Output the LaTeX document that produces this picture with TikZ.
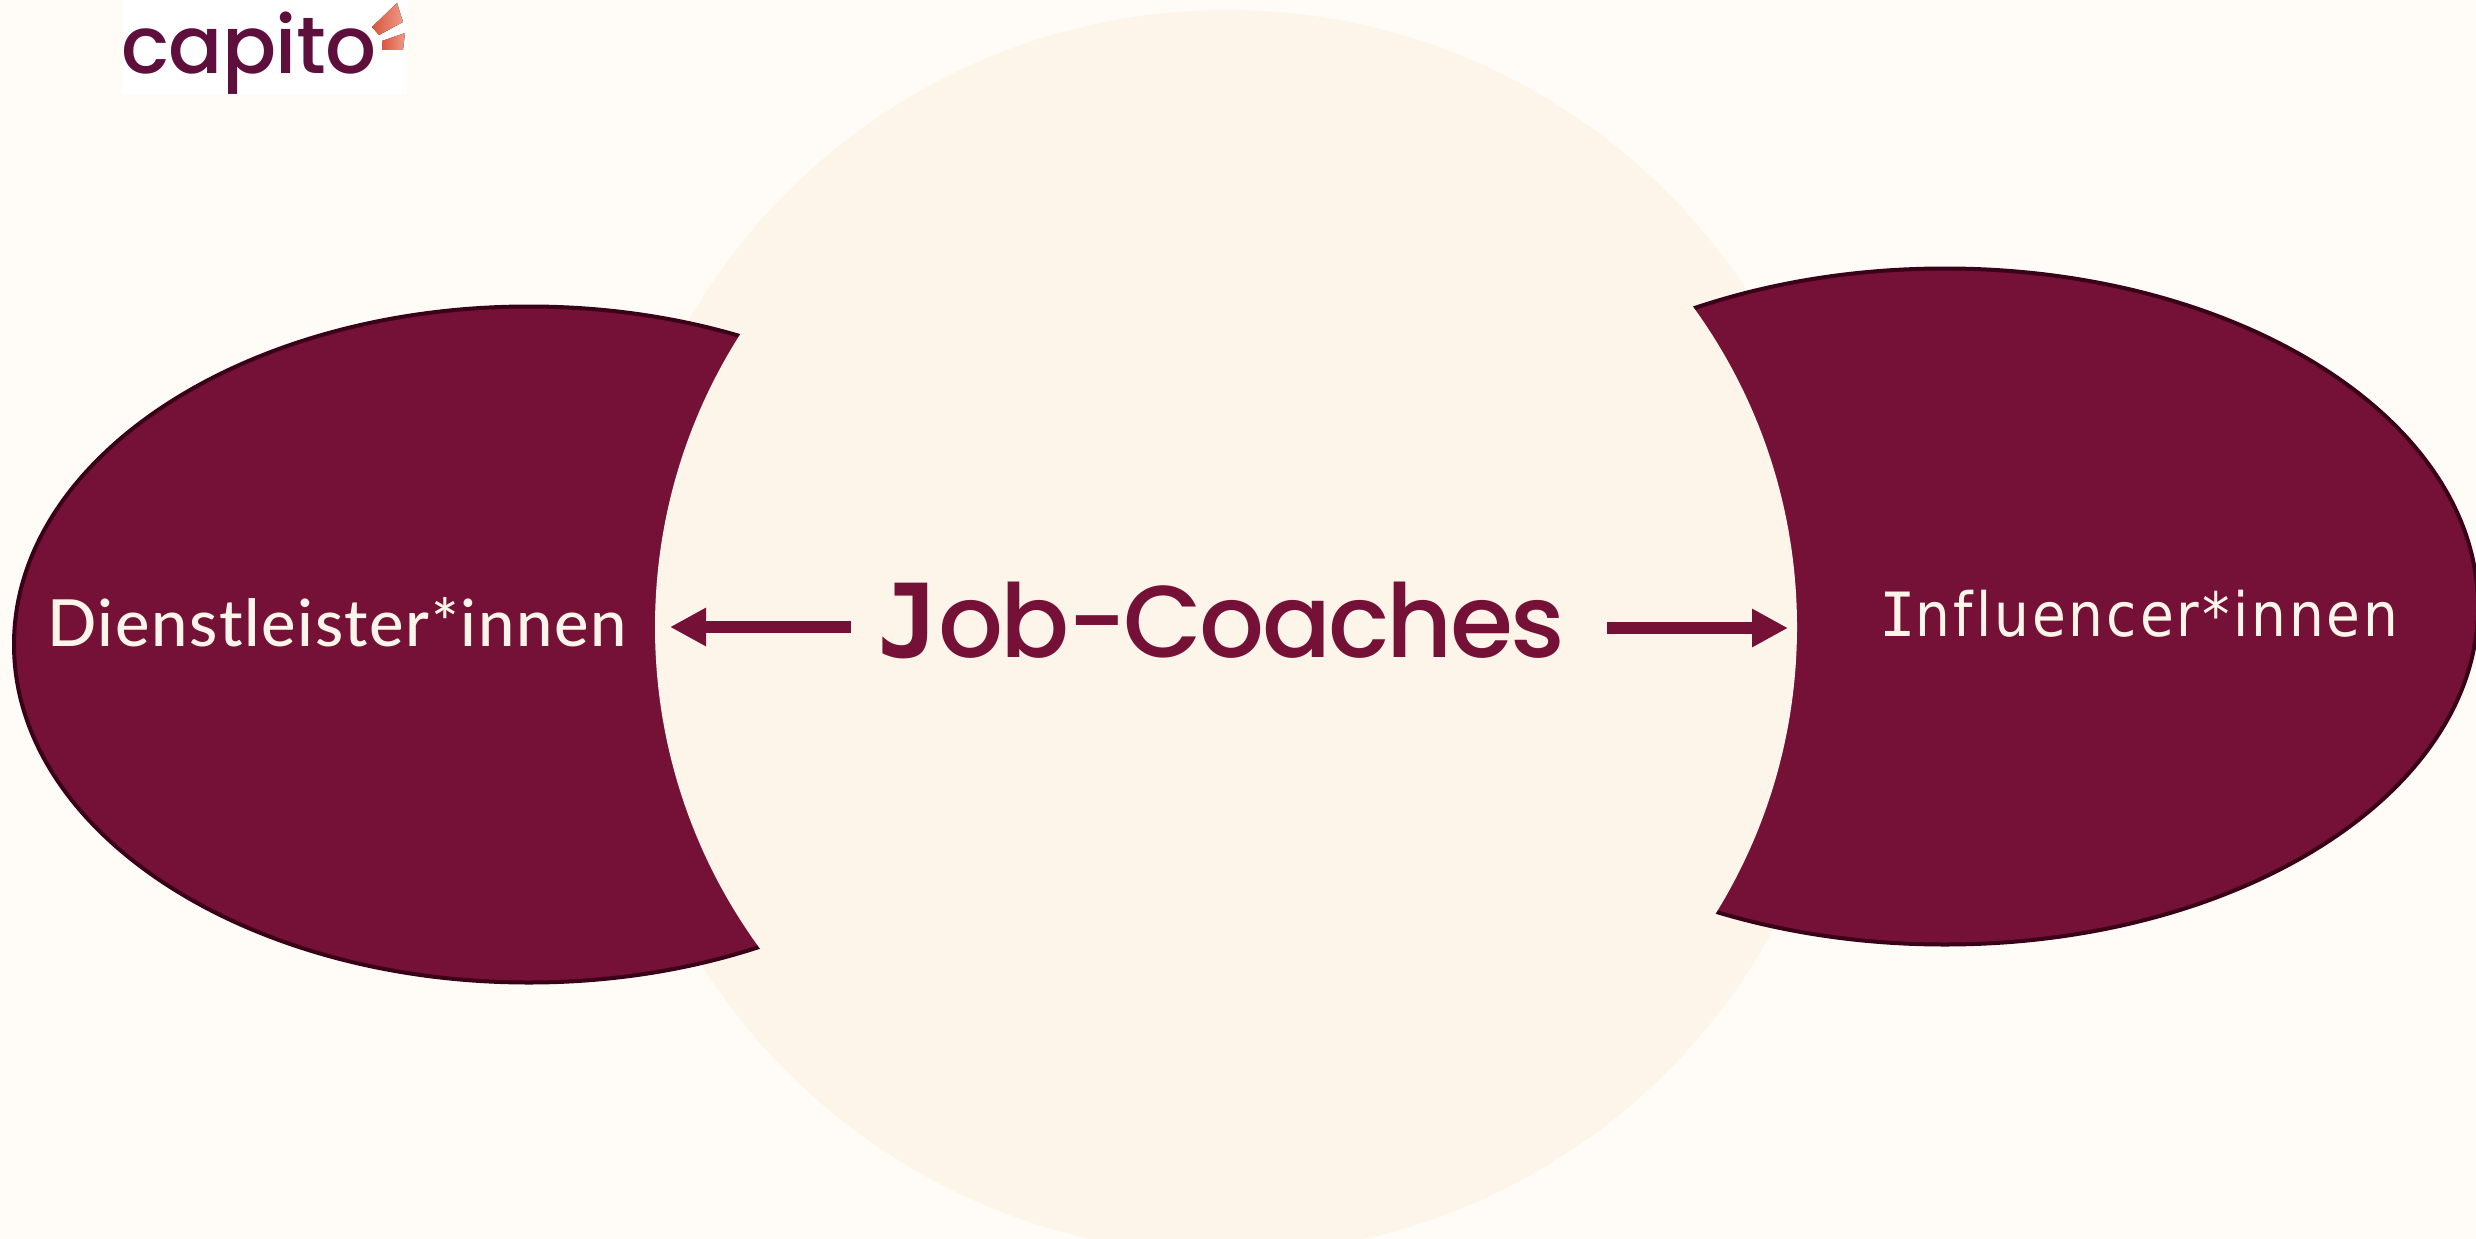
\documentclass[tikz,border=0pt]{standalone}
\usepackage{fontspec}
\usetikzlibrary{shapes.geometric,arrows.meta}
\setmainfont{Poppins}
\newfontfamily\jobfont[LetterSpace=-2.8]{Poppins Medium}
\newfontfamily\jfont{DejaVu Sans Mono Bold}
\newfontfamily\lblfont[LetterSpace=2.5]{Lato Medium}
\newfontfamily\inffont[LetterSpace=5,Ligatures=NoCommon]{DejaVu Sans Condensed}
\newfontfamily\infI{DejaVu Sans Mono}
\newfontfamily\logofont[LetterSpace=-0.8]{Poppins Medium}
\definecolor{bgc}{HTML}{FFFCF7}
\definecolor{pale}{HTML}{FDF5EA}
\definecolor{maroon}{HTML}{751136}
\definecolor{edgec}{HTML}{3A0018}
\definecolor{logoc}{HTML}{5F0F3C}
\definecolor{wedgea}{HTML}{D9573F}
\definecolor{wedgeb}{HTML}{EE9A85}
\tikzset{
  blob/.style={ellipse,draw=edgec,fill=maroon,line width=4pt,inner sep=0pt,outer sep=0pt},
  cutout/.style={circle,fill=pale,inner sep=0pt,outer sep=0pt,minimum size=1090pt},
  arrowline/.style={draw=maroon,line width=11.5pt,-{Triangle[length=36pt,width=36pt,fill=maroon]}},
  label/.style={inner sep=0pt,pale,anchor=base west}
}
\begin{document}
\begin{tikzpicture}[x=1pt,y=-1pt]
\path[use as bounding box,fill=bgc] (0,0) rectangle (2476,1239);
\begin{scope}
\clip (0,0) rectangle (2476,1239);
\node[circle,fill=pale,inner sep=0pt,minimum size=1244pt] (big) at (1227,632) {};
\node[blob,minimum width=1030pt,minimum height=676pt] (left) at (529,644.5) {};
\node[blob,minimum width=1066pt,minimum height=676pt] (right) at (1945,606.5) {};
\node[cutout] (cutl) at (1200,627) {};
\node[cutout] (cutr) at (1252,627) {};
\end{scope}
% logo
\node[fill=white,inner sep=0pt,minimum width=284pt,minimum height=95pt,anchor=north west] (logobox) at (123,0) {};
\node[inner sep=0pt,anchor=base west,text=logoc,font=\logofont\fontsize{80}{80}\selectfont] (logo) at (121,74) {capito};
\fill[left color=wedgea,right color=wedgeb] (372,27) -- (397,3) -- (403,22) -- (379,35) -- cycle;
\fill[left color=wedgea,right color=wedgeb] (382,41) -- (405,33) -- (403,50) -- (382,50) -- cycle;
% labels
\node[label,font=\lblfont\fontsize{65}{65}\selectfont] (dl) at (47,646) {Dienstleister*innen};
\node[label,font=\inffont\fontsize{61}{61}\selectfont] (inf) at (1879,636) {{\infI I}nfluencer*innen};
\node[inner sep=0pt,anchor=base west,text=maroon,font=\jobfont\fontsize{102}{102}\selectfont] (job) at (877,657) {{\jfont J}ob-Coaches};
% arrows
\coordinate (ls) at (851,627);
\coordinate (le) at (670,627);
\coordinate (rs) at (1607,628);
\coordinate (re) at (1788,628);
\draw[arrowline] (ls) -- (le);
\draw[arrowline] (rs) -- (re);
\end{tikzpicture}
\end{document}
